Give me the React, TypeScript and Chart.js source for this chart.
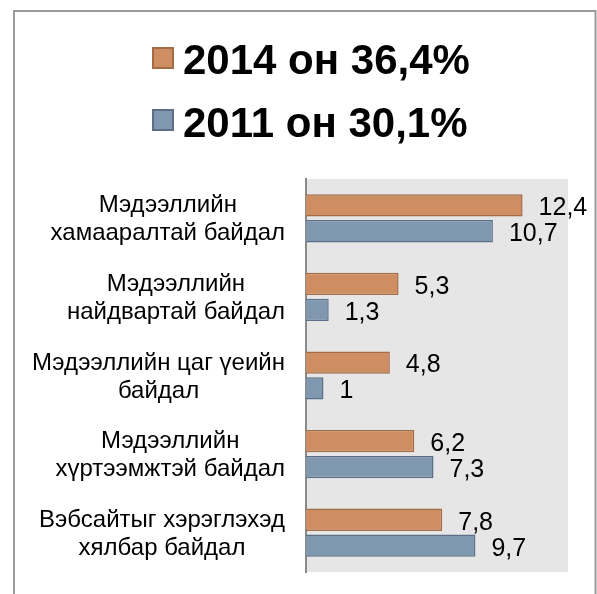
import React, { useEffect, useRef } from "react";
import { Chart, registerables } from "chart.js";

Chart.register(...registerables);

const categories: string[][] = [
  ["Мэдээллийн", "хамааралтай байдал"],
  ["Мэдээллийн", "найдвартай байдал"],
  ["Мэдээллийн цаг үеийн", "байдал"],
  ["Мэдээллийн", "хүртээмжтэй байдал"],
  ["Вэбсайтыг хэрэглэхэд", "хялбар байдал"],
];
const values2014: number[] = [12.4, 5.3, 4.8, 6.2, 7.8];
const values2011: number[] = [10.7, 1.3, 1, 7.3, 9.7];
const seriesLabels: string[] = ["2014 он 36,4%", "2011 он 30,1%"];
const xMin = 0;
const xMax = 15;

const FONT = '"Liberation Sans", Arial, sans-serif';
const fill2014 = "#CF8E62";
const border2014 = "#A26C47";
const fill2011 = "#7F98B0";
const border2011 = "#5B7088";

const framePlugin = {
  id: "frame",
  beforeDraw(chart: any) {
    const { ctx, chartArea, width } = chart;
    ctx.save();
    ctx.fillStyle = "#ffffff";
    ctx.fillRect(0, 0, chart.width, chart.height);
    ctx.strokeStyle = "#9a9a9a";
    ctx.lineWidth = 2;
    ctx.beginPath();
    ctx.moveTo(14, chart.height + 5);
    ctx.lineTo(14, 11);
    ctx.lineTo(width - 1.5, 11);
    ctx.lineTo(width - 1.5, chart.height + 5);
    ctx.stroke();
    ctx.fillStyle = "#E6E6E6";
    ctx.fillRect(
      chartArea.left,
      chartArea.top,
      chartArea.right - chartArea.left,
      chartArea.bottom - chartArea.top
    );
    ctx.restore();
  },
};

const legendPlugin = {
  id: "customLegend",
  afterDraw(chart: any) {
    const { ctx } = chart;
    ctx.save();
    chart.data.datasets.forEach((ds: any, i: number) => {
      const boxX = 152;
      const boxY = 47 + i * 62;
      ctx.fillStyle = ds.backgroundColor;
      ctx.fillRect(boxX, boxY, 22, 22);
      ctx.strokeStyle = ds.borderColor;
      ctx.lineWidth = 2;
      ctx.strokeRect(boxX + 1, boxY + 1, 20, 20);
      ctx.fillStyle = "#000";
      ctx.font = `bold 42px ${FONT}`;
      ctx.textAlign = "left";
      ctx.textBaseline = "alphabetic";
      ctx.fillText(ds.label, 183, 74 + i * 63);
    });
    ctx.restore();
  },
};

const labelsPlugin = {
  id: "customLabels",
  afterDraw(chart: any) {
    const { ctx } = chart;
    const yScale = chart.scales.y;
    ctx.save();
    // category labels
    ctx.font = `24px ${FONT}`;
    ctx.fillStyle = "#000";
    ctx.textAlign = "center";
    ctx.textBaseline = "alphabetic";
    const rightEdge = yScale.right - 21;
    categories.forEach((lines, i) => {
      const c = yScale.getPixelForTick(i);
      const maxW = Math.max(...lines.map((l) => ctx.measureText(l).width));
      const cx = rightEdge - maxW / 2;
      lines.forEach((line, k) => {
        ctx.fillText(line, cx, c - 6 + k * 28);
      });
    });
    // value labels
    ctx.font = `25px ${FONT}`;
    ctx.textAlign = "left";
    ctx.textBaseline = "middle";
    chart.data.datasets.forEach((ds: any, di: number) => {
      const meta = chart.getDatasetMeta(di);
      meta.data.forEach((bar: any, j: number) => {
        const v = ds.data[j];
        const txt = String(v).replace(".", ",");
        ctx.fillText(txt, bar.x + 16, bar.y + 3);
      });
    });
    ctx.restore();
  },
};

export default function App() {
  const ref = useRef<HTMLCanvasElement | null>(null);
  useEffect(() => {
    if (!ref.current) return;
    const chart = new Chart(ref.current, {
      type: "bar",
      data: {
        labels: categories.map((c) => c.join(" ")),
        datasets: [
          {
            label: seriesLabels[0],
            data: values2014,
            backgroundColor: fill2014,
            borderColor: border2014,
            borderWidth: 1.5,
            categoryPercentage: 0.66,
            barPercentage: 0.86,
          },
          {
            label: seriesLabels[1],
            data: values2011,
            backgroundColor: fill2011,
            borderColor: border2011,
            borderWidth: 1.5,
            categoryPercentage: 0.66,
            barPercentage: 0.86,
          },
        ],
      },
      options: {
        indexAxis: "y",
        responsive: false,
        animation: false,
        devicePixelRatio: 1,
        layout: { padding: { left: 0, right: 29, top: 179, bottom: 22 } },
        plugins: {
          legend: { display: false },
          tooltip: { enabled: false },
          title: { display: false },
        },
        scales: {
          x: { display: false, min: xMin, max: xMax },
          y: {
            grid: { display: false },
            border: { display: true, color: "#8a8a8a", width: 2 },
            ticks: { display: false },
            afterFit(scale: any) {
              scale.width = 306;
            },
          },
        },
      },
      plugins: [framePlugin, legendPlugin, labelsPlugin],
    } as any);
    return () => chart.destroy();
  }, []);
  return (
    <canvas
      ref={ref}
      width={597}
      height={594}
      style={{ position: "absolute", left: 0, top: 0, width: 597, height: 594 }}
    />
  );
}
